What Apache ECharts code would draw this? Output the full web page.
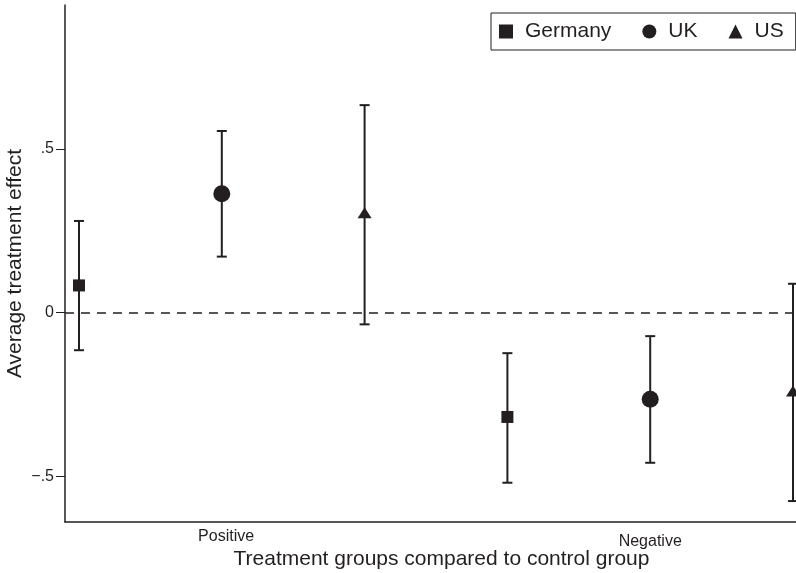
<!DOCTYPE html>
<html>
<head>
<meta charset="utf-8">
<script src="https://cdn.jsdelivr.net/npm/echarts@6/dist/echarts.min.js"></script>
<style>
html,body{margin:0;padding:0;background:#fff;}
#chart{width:796px;height:573px;}
</style>
</head>
<body>
<div id="chart"></div>
<script>
// ---- data ----
const countries = ['Germany', 'UK', 'US'];
const groupLabels = ['Positive', 'Negative'];
const groupLabelPositions = [2.03, 5];
const germanyX = [1, 4];
const ukX = [2, 5];
const usX = [3, 6];
const germanyEst = [0.083, -0.319];
const germanyLo = [-0.115, -0.52];
const germanyHi = [0.28, -0.124];
const ukEst = [0.363, -0.265];
const ukLo = [0.171, -0.459];
const ukHi = [0.555, -0.072];
const usEst = [0.305, -0.24];
const usLo = [-0.036, -0.576];
const usHi = [0.634, 0.088];
const yTickValues = [-0.5, 0, 0.5];
const yTickLabels = ['\u2212.5', '0', '.5'];

const ink = '#231f20';
const font = 'Liberation Sans, Arial, Helvetica, sans-serif';

function pts(xs, est) { return xs.map((x, i) => [x, est[i]]); }
function bars(xs, lo, hi) { return xs.map((x, i) => [x, lo[i], hi[i]]); }

const errData = [].concat(
  bars(germanyX, germanyLo, germanyHi),
  bars(ukX, ukLo, ukHi),
  bars(usX, usLo, usHi)
);

const chart = echarts.init(document.getElementById('chart'));
chart.setOption({
  animation: false,
  backgroundColor: '#fff',
  grid: { left: 65, right: -22, top: 5, bottom: 51, containLabel: false, outerBoundsMode: 'none' },
  legend: {
    left: 491, top: 13,
    orient: 'horizontal',
    itemWidth: 14, itemHeight: 14,
    itemGap: 31,
    padding: [8, 12, 8, 8],
    borderColor: ink, borderWidth: 1,
    textStyle: { color: ink, fontSize: 21, fontFamily: font, padding: [0, 0, 0, 7] },
    data: [
      { name: countries[0], icon: 'rect' },
      { name: countries[1], icon: 'circle' },
      { name: countries[2], icon: 'triangle' }
    ]
  },
  xAxis: {
    type: 'value', min: 0.902, max: 6.175,
    name: 'Treatment groups compared to control group',
    nameLocation: 'middle', nameGap: 27, nameMoveOverlap: false,
    nameTextStyle: { color: ink, fontSize: 21, fontFamily: font },
    splitLine: { show: false },
    axisLine: { show: true, onZero: false, lineStyle: { color: ink, width: 1.5 } },
    axisTick: { show: false },
    axisLabel: {
      customValues: groupLabelPositions,
      margin: 7,
      color: ink, fontSize: 16, fontFamily: font,
      formatter: function (v) {
        const i = groupLabelPositions.indexOf(v);
        return i === 0 ? '{p|' + groupLabels[0] + '}' : '{n|' + groupLabels[1] + '}';
      },
      rich: {
        p: { fontSize: 16, fontFamily: font, color: ink },
        n: { fontSize: 16, fontFamily: font, color: ink, padding: [5, 0, 0, 0] }
      }
    }
  },
  yAxis: {
    type: 'value', min: -0.64, max: 0.94,
    name: 'Average treatment effect',
    nameLocation: 'middle', nameGap: 39, nameRotate: 90, nameMoveOverlap: false,
    nameTextStyle: { color: ink, fontSize: 21, fontFamily: font },
    splitLine: { show: false },
    axisLine: { show: true, onZero: false, lineStyle: { color: ink, width: 1.5 } },
    axisTick: { show: true, length: 9, customValues: yTickValues, lineStyle: { color: ink, width: 1 } },
    axisLabel: {
      customValues: yTickValues,
      margin: 11,
      color: ink, fontSize: 16, fontFamily: font,
      formatter: function (v) {
        const i = yTickValues.findIndex(t => Math.abs(t - v) < 1e-9);
        return i >= 0 ? yTickLabels[i] : '';
      }
    }
  },
  series: [
    {
      type: 'custom',
      name: 'ci',
      silent: true,
      data: errData,
      renderItem: function (params, api) {
        const x = api.value(0);
        const lo = api.coord([x, api.value(1)]);
        const hi = api.coord([x, api.value(2)]);
        const hw = 5;
        const st = { stroke: ink, lineWidth: 2 };
        return {
          type: 'group',
          children: [
            { type: 'line', shape: { x1: lo[0], y1: lo[1], x2: hi[0], y2: hi[1] }, style: st },
            { type: 'line', shape: { x1: lo[0] - hw, y1: lo[1], x2: lo[0] + hw, y2: lo[1] }, style: st },
            { type: 'line', shape: { x1: hi[0] - hw, y1: hi[1], x2: hi[0] + hw, y2: hi[1] }, style: st }
          ]
        };
      },
      markLine: {
        silent: true,
        symbol: 'none',
        label: { show: false },
        lineStyle: { color: ink, type: [9, 7], width: 1.5 },
        data: [{ yAxis: 0 }]
      },
      z: 2
    },
    {
      type: 'scatter', name: countries[0], symbol: 'rect', symbolSize: 12,
      itemStyle: { color: ink, opacity: 1 }, data: pts(germanyX, germanyEst), z: 3
    },
    {
      type: 'scatter', name: countries[1], symbol: 'circle', symbolSize: 17,
      itemStyle: { color: ink, opacity: 1 }, data: pts(ukX, ukEst), z: 3
    },
    {
      type: 'scatter', name: countries[2], symbol: 'triangle', symbolSize: [14, 11],
      itemStyle: { color: ink, opacity: 1 }, data: pts(usX, usEst), z: 3
    }
  ]
});
</script>
</body>
</html>
